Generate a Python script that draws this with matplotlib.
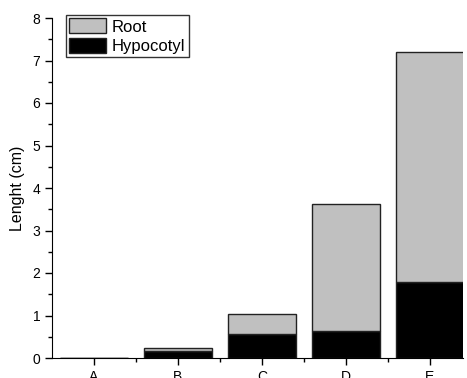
import matplotlib
matplotlib.use("Agg")
import matplotlib.pyplot as plt
from matplotlib.ticker import MultipleLocator, FixedLocator

plt.rcParams['font.family'] = ['Liberation Sans', 'DejaVu Sans']

categories = ['A', 'B', 'C', 'D', 'E']
hypocotyl = [0.0, 0.17, 0.57, 0.63, 1.79]
root = [0.0, 0.06, 0.46, 2.99, 5.42]

fig = plt.figure(figsize=(4.67, 3.78), dpi=100)
ax = fig.add_axes([52 / 467, 1 - 358 / 378, 411 / 467, 340 / 378])

x = list(range(1, len(categories) + 1))
ax.bar(x, hypocotyl, width=0.8, color='black', edgecolor='#222222', linewidth=1, label='Hypocotyl')
ax.bar(x, root, width=0.8, bottom=hypocotyl, color='#c0c0c0', edgecolor='#222222', linewidth=1, label='Root')

ax.set_xlim(0.5, 0.5 + 411 / 84)
ax.set_ylim(0, 8)
ax.set_xticks(x)
ax.set_xticklabels(categories)
ax.xaxis.set_minor_locator(FixedLocator([1.5, 2.5, 3.5, 4.5]))
ax.yaxis.set_major_locator(MultipleLocator(1))
ax.yaxis.set_minor_locator(MultipleLocator(0.5))
ax.tick_params(axis='both', which='major', direction='out', length=5, width=1, labelsize=10)
ax.tick_params(axis='both', which='minor', direction='out', length=3, width=1)
ax.spines['top'].set_visible(False)
ax.spines['right'].set_visible(False)
ax.set_ylabel('Lenght (cm)', fontsize=11.5, labelpad=5)

handles, labels = ax.get_legend_handles_labels()
leg = ax.legend(handles[::-1], labels[::-1], loc='upper left',
                bbox_to_anchor=(66 / 467, 1 - 15 / 378), bbox_transform=fig.transFigure,
                borderaxespad=0, fancybox=False, edgecolor='#333333', framealpha=1,
                fontsize=12, handlelength=2.2, handleheight=1.0, handletextpad=0.35,
                borderpad=0.2, labelspacing=0.2)
leg.get_frame().set_linewidth(1)

fig.savefig('out.png', dpi=100)
